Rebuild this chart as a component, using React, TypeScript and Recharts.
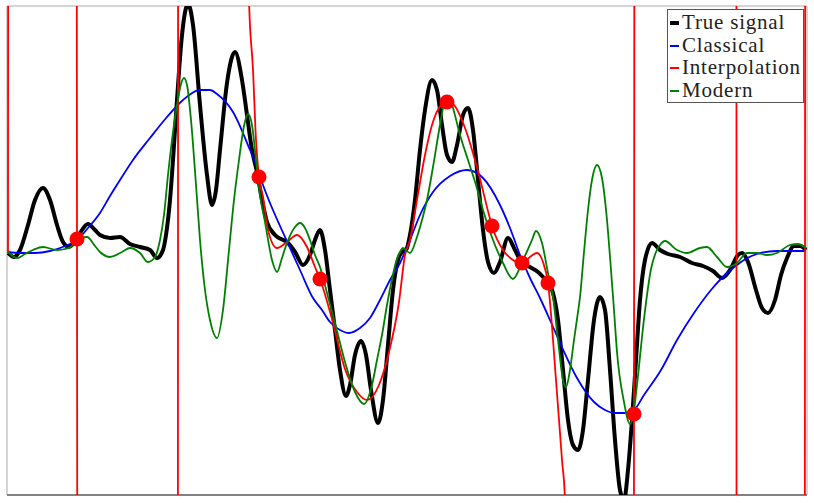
import React from 'react';
import { ComposedChart, Line, XAxis, YAxis, ReferenceArea, ReferenceLine } from 'recharts';

// x: position along the record, y: signal value (estimated from the figure)
const trueSignal: [number, number][] = [
  [0, -0.03], [6, -0.07], [12, 0], [20, 0.25], [27, 0.5], [35, 0.62], [42, 0.5], [49, 0.25], [55, 0.08],
  [61, 0.03], [66, 0.07], [72, 0.17], [80, 0.26], [87, 0.2], [92, 0.15], [102, 0.12], [112, 0.13],
  [122, 0.06], [132, 0.03], [142, 0], [149, -0.08], [155, 0], [158, 0.15], [162, 0.5], [165, 0.9],
  [169, 1.5], [174, 2.15], [180, 2.46], [185, 2.25], [192, 1.45], [199, 0.75], [204, 0.45], [208, 0.6],
  [212, 1.0], [219, 1.67], [227, 1.98], [234, 1.7], [239, 1.35], [244, 1.0], [249, 0.78], [254, 0.5],
  [259, 0.28], [267, 0.15], [280, 0.07], [287, -0.02], [295, -0.15], [302, -0.05], [307, 0.1], [312, 0.2],
  [317, 0], [322, -0.4], [327, -0.8], [332, -1.2], [338, -1.46], [342, -1.35], [347, -1.05], [353, -0.91],
  [358, -1.05], [363, -1.4], [370, -1.73], [375, -1.5], [380, -0.95], [385, -0.4], [390, -0.1], [394, -0.02],
  [398, 0], [402, 0.15], [407, 0.5], [412, 1.0], [417, 1.4], [424, 1.7], [429, 1.6], [434, 1.25], [439, 0.95],
  [444, 0.88], [449, 1.05], [455, 1.35], [460, 1.42], [465, 1.2], [470, 0.7], [475, 0.2], [480, -0.12],
  [486, -0.23], [492, -0.12], [500, 0.12], [507, 0], [514, -0.13], [522, -0.17], [530, -0.22], [535, -0.27],
  [540, -0.33], [545, -0.43], [550, -0.7], [555, -1.2], [560, -1.7], [565, -1.95], [570, -2.0], [575, -1.8],
  [580, -1.3], [586, -0.7], [592, -0.47], [597, -0.6], [602, -1.2], [607, -1.9], [612, -2.4], [616, -2.5],
  [620, -2.2], [624, -1.7], [628, -1.1], [632, -0.5], [637, -0.1], [644, 0.07], [652, 0], [660, -0.04],
  [672, -0.07], [684, -0.13], [695, -0.16], [705, -0.21], [714, -0.28], [722, -0.2], [730, -0.05],
  [734, -0.03], [740, -0.12], [748, -0.4], [754, -0.58], [760, -0.63], [767, -0.5], [773, -0.25],
  [779, -0.08], [786, 0.04], [792, 0.04], [798, 0],
];

const classical: [number, number][] = [
  [0, -0.02], [12, -0.03], [27, -0.03], [42, -0.01], [52, 0.02], [62, 0.06], [69, 0.1], [80, 0.22],
  [92, 0.37], [102, 0.54], [112, 0.7], [125, 0.9], [142, 1.12], [159, 1.33], [175, 1.5], [192, 1.6],
  [202, 1.6], [209, 1.56], [225, 1.38], [242, 1.0], [249, 0.83], [255, 0.65], [262, 0.47], [272, 0.24],
  [282, 0.02], [292, -0.2], [305, -0.48], [314, -0.6], [322, -0.72], [332, -0.8], [341, -0.83], [352, -0.78],
  [362, -0.68], [372, -0.5], [382, -0.3], [392, -0.13], [402, 0.1], [412, 0.35], [425, 0.58], [442, 0.74],
  [459, 0.8], [475, 0.72], [492, 0.45], [502, 0.22], [512, -0.05], [522, -0.28], [532, -0.48], [542, -0.7],
  [553, -0.95], [569, -1.28], [586, -1.52], [597, -1.6], [606, -1.63], [617, -1.63], [626, -1.6],
  [636, -1.45], [653, -1.2], [669, -0.9], [686, -0.63], [703, -0.4], [719, -0.23], [729, -0.15],
  [736, -0.1], [749, -0.04], [769, -0.01], [798, -0.01],
];

// the interpolant runs far off the plot between the samples
const interpolation: [number, number][] = [
  [0, -0.03], [1.5, 20], [67, 20], [69, 0.11], [71, -20], [169, -20], [171, 20], [239, 20], [241, 2.5],
  [245, 1.8], [248, 1.1], [251, 0.73], [255, 0.53], [260, 0.2], [269, 0.02], [279, 0.08], [289, 0.15],
  [299, 0.03], [307, -0.17], [312, -0.29], [324, -0.69], [337, -1.19], [349, -1.42], [359, -1.5],
  [371, -1.35], [381, -1.02], [391, -0.52], [397, -0.05], [402, 0.1], [409, 0.5], [417, 0.95], [424, 1.25],
  [431, 1.42], [439, 1.48], [445, 1.46], [457, 1.22], [471, 0.75], [481, 0.35], [484, 0.24], [495, 0],
  [505, -0.1], [514, -0.14], [522, -0.07], [529, -0.03], [535, -0.12], [540, -0.33], [548, -1.3],
  [554, -2.1], [557, -2.5], [559, -20], [624.5, -20], [626, -1.64], [628, 20], [728, 20], [729, -20],
  [796, -20], [798, 20],
];

const modern: [number, number][] = [
  [0, -0.02], [9, -0.08], [17, -0.04], [25, 0], [35, 0.03], [49, 0], [57, 0.01], [64, 0.04], [69, 0.11],
  [79, 0.13], [87, 0.04], [92, -0.02], [102, -0.07], [114, -0.02], [122, 0.02], [132, -0.03], [140, -0.12],
  [147, -0.07], [152, 0.1], [156, 0.35], [160, 0.75], [164, 1.1], [169, 1.45], [173, 1.66], [176, 1.72],
  [179, 1.65], [183, 1.3], [188, 0.65], [192, 0.1], [197, -0.4], [202, -0.7], [209, -0.88], [215, -0.6],
  [221, 0], [226, 0.5], [231, 0.9], [236, 1.24], [240, 1.36], [244, 1.25], [248, 0.9], [252, 0.55],
  [257, 0.28], [264, -0.1], [269, -0.22], [274, -0.08], [279, 0.07], [287, 0.23], [292, 0.27], [297, 0.22],
  [302, 0.1], [307, -0.05], [312, -0.17], [319, -0.43], [324, -0.62], [330, -0.85], [337, -1.12],
  [347, -1.42], [356, -1.54], [364, -1.35], [369, -1.1], [374, -0.85], [379, -0.55], [384, -0.29],
  [388, -0.12], [392, -0.02], [395, 0.02], [402, -0.03], [409, 0.13], [414, 0.3], [419, 0.5], [425, 0.83],
  [432, 1.25], [437, 1.5], [440, 1.53], [444, 1.45], [452, 1.15], [460, 0.9], [468, 0.65], [475, 0.4],
  [485, 0.1], [495, -0.13], [505, -0.29], [515, -0.1], [524, 0.1], [528, 0.19], [534, 0.07], [540, -0.23],
  [545, -0.47], [550, -0.9], [555, -1.3], [558, -1.37], [562, -1.2], [566, -0.9], [569, -0.69], [572, -0.47],
  [576, -0.02], [580, 0.4], [584, 0.7], [589, 0.85], [594, 0.72], [599, 0.3], [603, -0.2], [606, -0.6],
  [609, -1.02], [616, -1.52], [622, -1.74], [626, -1.6], [629, -1.35], [636, -0.69], [643, -0.19],
  [648, -0.02], [652, 0.05], [657, 0.09], [669, 0], [679, -0.03], [692, 0.02], [699, 0.03], [709, -0.07],
  [719, -0.17], [729, -0.13], [739, -0.03], [749, -0.03], [759, -0.05], [769, -0.03], [782, 0.05],
  [790, 0.06], [798, 0.02],
];

const samples: [number, number][] = [
  [69, 0.11], [251, 0.73], [312, -0.29], [439, 1.48], [484, 0.24], [514, -0.13], [540, -0.33], [626, -1.64],
];

const legendItems = [
  { name: 'True signal', color: '#000000', thick: 4 },
  { name: 'Classical', color: '#0000ff', thick: 2 },
  { name: 'Interpolation', color: '#ff0000', thick: 2 },
  { name: 'Modern', color: '#008000', thick: 2 },
];

const toPts = (arr: [number, number][]) => arr.map(([x, y]) => ({ x, y }));

const X_DOMAIN: [number, number] = [-1, 799];
const Y_DOMAIN: [number, number] = [-2.45, 2.44];

const App: React.FC = () => {
  return (
    <div style={{ position: 'absolute', left: 0, top: 0, width: 814, height: 503, background: '#fff' }}>
      <ComposedChart width={814} height={503} margin={{ top: 6, right: 7, bottom: 8, left: 7 }}>
        <XAxis type="number" dataKey="x" domain={X_DOMAIN} allowDataOverflow hide />
        <YAxis type="number" dataKey="y" domain={Y_DOMAIN} allowDataOverflow hide />
        <ReferenceArea x1={X_DOMAIN[0]} x2={X_DOMAIN[1]} y1={Y_DOMAIN[0]} y2={Y_DOMAIN[1]} fill="none" stroke="#aaaaaa" strokeWidth={1} fillOpacity={0} />
        <ReferenceLine y={Y_DOMAIN[0]} stroke="#666666" strokeWidth={1.5} />
        <Line data={toPts(trueSignal)} dataKey="y" type="monotone" stroke="#000000" strokeWidth={4} dot={false} activeDot={false} isAnimationActive={false} />
        <Line data={toPts(classical)} dataKey="y" type="monotone" stroke="#0000ff" strokeWidth={1.8} dot={false} activeDot={false} isAnimationActive={false} />
        <Line data={toPts(interpolation)} dataKey="y" type="monotone" stroke="#ff0000" strokeWidth={1.8} dot={false} activeDot={false} isAnimationActive={false} />
        <Line data={toPts(modern)} dataKey="y" type="monotone" stroke="#008000" strokeWidth={1.8} dot={false} activeDot={false} isAnimationActive={false} />
        <Line data={toPts(samples)} dataKey="y" stroke="none" dot={{ r: 7.5, fill: '#ff0000', stroke: 'none' }} activeDot={false} isAnimationActive={false} />
      </ComposedChart>
      <div
        style={{
          position: 'absolute', left: 667, top: 9, width: 137, height: 94, boxSizing: 'border-box',
          border: '1px solid #555', background: '#fff', fontFamily: '"Liberation Serif", serif',
          fontSize: 21, letterSpacing: 0.8, color: '#222',
        }}
      >
        {legendItems.map((item) => (
          <div key={item.name} style={{ position: 'relative', height: 22.5, lineHeight: '22.5px', paddingLeft: 14, whiteSpace: 'nowrap', marginTop: item.name === 'True signal' ? 1 : 0 }}>
            <span style={{ position: 'absolute', left: 2, top: 12.3 - item.thick / 2, width: 9, height: item.thick, background: item.color }} />
            {item.name}
          </div>
        ))}
      </div>
    </div>
  );
};

export default App;
